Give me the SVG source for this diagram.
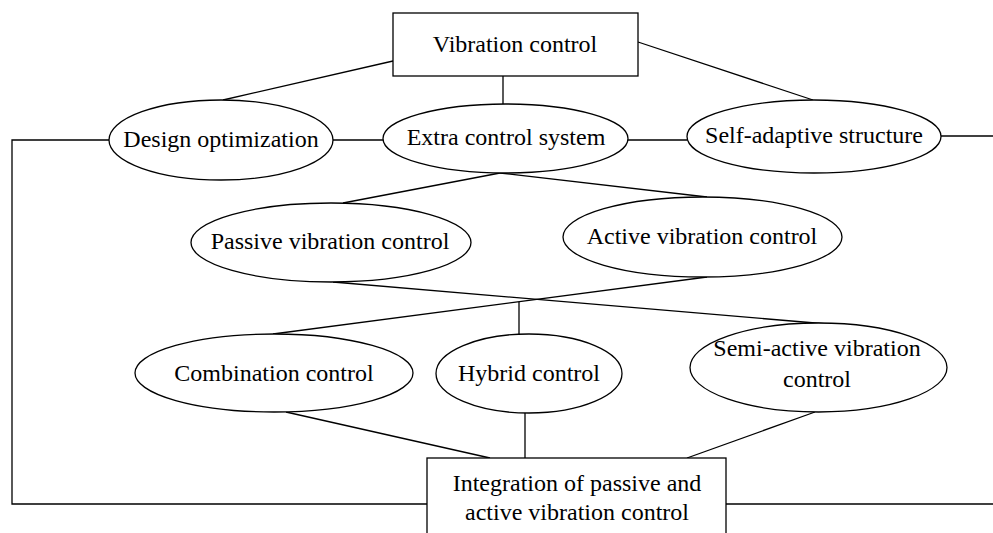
<svg xmlns="http://www.w3.org/2000/svg" width="993" height="533" viewBox="0 0 993 533">
<style>
.n{fill:#fff;stroke:#000;stroke-width:1.3}
.c line,.c polyline{stroke:#000;stroke-width:1.3;fill:none}
text{font-family:"Liberation Serif","Times New Roman",serif;font-size:24px;fill:#000;text-anchor:middle}
</style>
<rect width="993" height="533" fill="#fff"/>
<g id="connectors" class="c">
<line x1="393" y1="61" x2="223" y2="100"/>
<line x1="503" y1="76" x2="503" y2="104"/>
<line x1="638" y1="42" x2="813" y2="100"/>
<line x1="333" y1="140" x2="383" y2="140"/>
<line x1="628" y1="140" x2="687" y2="140"/>
<line x1="941" y1="136" x2="993" y2="136"/>
<polyline points="109,140 12,140 12,504 427,504"/>
<line x1="726" y1="504" x2="993" y2="504"/>
<line x1="500" y1="173" x2="343" y2="203"/>
<line x1="500" y1="173" x2="707" y2="197"/>
<line x1="333" y1="282" x2="827" y2="324"/>
<line x1="707" y1="277" x2="273" y2="334"/>
<line x1="519" y1="302" x2="519" y2="334"/>
<line x1="286" y1="412" x2="490" y2="458"/>
<line x1="525" y1="413" x2="525" y2="458"/>
<line x1="815" y1="412" x2="687" y2="458"/>
</g>
<g id="vibration-control">
<rect class="n" x="393" y="13" width="245" height="63"/>
<text x="515" y="52">Vibration control</text>
</g>
<g id="design-optimization">
<ellipse class="n" cx="221" cy="140" rx="112" ry="40"/>
<text x="221" y="147">Design optimization</text>
</g>
<g id="extra-control-system">
<ellipse class="n" cx="505.5" cy="138.5" rx="122.5" ry="34.5"/>
<text x="506" y="145">Extra control system</text>
</g>
<g id="self-adaptive-structure">
<ellipse class="n" cx="814" cy="136.5" rx="127" ry="36.5"/>
<text x="814" y="143">Self-adaptive structure</text>
</g>
<g id="passive-vibration-control">
<ellipse class="n" cx="331" cy="242.5" rx="140" ry="39.5"/>
<text x="330" y="249">Passive vibration control</text>
</g>
<g id="active-vibration-control">
<ellipse class="n" cx="702.5" cy="237" rx="139.5" ry="40"/>
<text x="702" y="244">Active vibration control</text>
</g>
<g id="combination-control">
<ellipse class="n" cx="274" cy="373" rx="139" ry="39"/>
<text x="274" y="381">Combination control</text>
</g>
<g id="hybrid-control">
<ellipse class="n" cx="529" cy="373.5" rx="93" ry="39.5"/>
<text x="529" y="381">Hybrid control</text>
</g>
<g id="semi-active-vibration-control">
<ellipse class="n" cx="818.5" cy="367.5" rx="128.5" ry="44.5"/>
<text x="817" y="356">Semi-active vibration</text>
<text x="817" y="387">control</text>
</g>
<g id="integration">
<rect class="n" x="427" y="458" width="299" height="90"/>
<text x="577" y="491">Integration of passive and</text>
<text x="577" y="520">active vibration control</text>
</g>
</svg>
